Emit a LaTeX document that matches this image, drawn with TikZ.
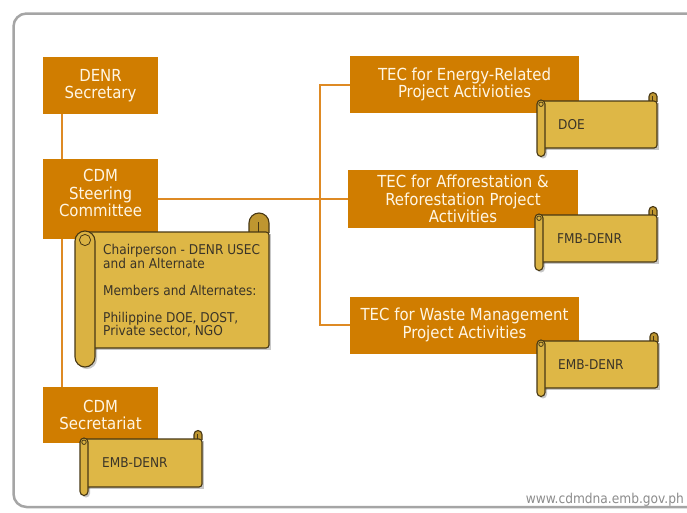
\documentclass[tikz,border=0pt]{standalone}
\usepackage{fontspec}
\setmainfont{DejaVu Sans Condensed}
\usetikzlibrary{calc}
\definecolor{boxorange}{RGB}{208,125,0}
\definecolor{connorange}{RGB}{222,138,36}
\definecolor{boxtxt}{RGB}{255,246,228}
\definecolor{scrollgold}{RGB}{222,183,70}
\definecolor{leftgold}{RGB}{218,178,66}
\definecolor{rollgold}{RGB}{190,150,48}
\definecolor{scrollline}{RGB}{72,56,20}
\definecolor{scrolltxt}{RGB}{58,52,40}
\definecolor{framegray}{RGB}{165,165,165}
\definecolor{urlgray}{RGB}{140,140,140}
\tikzset{
  box/.style={fill=boxorange, draw=none, text=boxtxt, font=\fontsize{16.6}{17.5}\selectfont, align=center, inner sep=0pt},
  boxlabel/.style={text=boxtxt, font=\fontsize{16.6}{17.5}\selectfont, align=center, inner sep=0pt},
  conn/.style={draw=connorange, line width=2pt},
  scrolltext/.style={text=scrolltxt, font=\fontsize{13.5}{13.5}\selectfont, inner sep=0pt, align=left},
  sline/.style={draw=scrollline, line width=1.1pt},
}
% #1 left x of left roll, #2 body top, #3 body right, #4 body bottom, #5 roll width, #6 overhang
\newcommand\scrollshape[6]{%
  \fill[black, opacity=0.22] ({#1+#5/2+2},{#2+2}) rectangle ({#3+2},{#4+2});
  \fill[black, opacity=0.22, rounded corners={#5/2}] ({#1+2},{#2+2}) rectangle ({#1+#5+2},{#4+#6+2});
  \filldraw[fill=rollgold, sline, rounded corners={#5/2}] ({#3-#5},{#2+1}) -- ({#3-#5},{#2-#6}) -- (#3,{#2-#6}) -- (#3,{#2+1});
  \filldraw[fill=scrollgold, sline, rounded corners=3pt] ({#1+#5/2},#2) rectangle (#3,#4);
  \draw[draw=scrollline, line width=0.8pt] ({#3-#5*0.55},{#2}) -- ({#3-#5*0.55},{#2-#6+#5*0.45});
  \filldraw[fill=leftgold, sline, rounded corners={#5/2}] (#1,{#2-1}) rectangle ({#1+#5},{#4+#6});
  \draw[draw=scrollline, line width=0.8pt] ({#1+#5/2},{#2+#5*0.4}) circle[radius={#5*0.28}];
}
\begin{document}
\begin{tikzpicture}[x=1pt,y=-1pt]
\useasboundingbox (0,0) rectangle (687,512);
\fill[white] (0,0) rectangle (687,512);
\draw[framegray, line width=2.5pt, rounded corners=13pt] (705,13.5) -- (13.5,13.5) -- (13.5,507) -- (705,507);

% boxes
\node[box, minimum width=115pt, minimum height=57pt] (den) at (100.5,85.5) {DENR\\Secretary};
\node[box, minimum width=115pt, minimum height=80pt] (sc) at (100.5,199) {};
\node[boxlabel] (sct) at (100.5,193) {CDM\\Steering\\Committee};
\node[box, minimum width=115pt, minimum height=56pt] (sec) at (100.5,415) {CDM\\Secretariat};
\node[box, minimum width=229pt, minimum height=57pt] (en) at (464.5,84.5) {TEC for Energy-Related\\Project Activioties};
\node[box, minimum width=230pt, minimum height=58pt] (af) at (463,199) {TEC for Afforestation \&\\Reforestation Project\\Activities};
\node[box, minimum width=229pt, minimum height=57pt] (wm) at (464.5,325) {TEC for Waste Management\\Project Activities};

% connectors
\coordinate (tr) at (320,199);
\draw[conn] ([xshift=19pt]den.south west) -- ([xshift=19pt]sc.north west);
\draw[conn] ([xshift=19pt]sc.south west) -- ([xshift=19pt]sec.north west);
\draw[conn] (sc.east) -- (af.west);
\draw[conn] (en.west) -| (tr) |- (wm.west);

% scrolls
\scrollshape{75}{232}{269}{348}{20}{19}
\node[scrolltext, anchor=base west] (chair) at (103,335.5) {Chairperson - DENR USEC\\and an Alternate\\[13.5pt]Members and Alternates:\\[13.5pt]Philippine DOE, DOST,\\Private sector, NGO};

\scrollshape{537}{101}{657}{148}{8}{8.5}
\node[scrolltext, anchor=west] (doe) at (558,125) {DOE};

\scrollshape{535}{215}{657}{262}{8}{8.5}
\node[scrolltext, anchor=west] (fmb) at (557,238.5) {FMB-DENR};

\scrollshape{537}{341}{658}{388}{8}{8.5}
\node[scrolltext, anchor=west] (embw) at (558,365) {EMB-DENR};

\scrollshape{80}{439}{202}{487}{8}{8.5}
\node[scrolltext, anchor=west] (embs) at (102,463) {EMB-DENR};

\node[text=urlgray, font=\fontsize{13.6}{15}\selectfont, anchor=base east, inner sep=0pt] (url) at (684,503) {www.cdmdna.emb.gov.ph};
\end{tikzpicture}
\end{document}
